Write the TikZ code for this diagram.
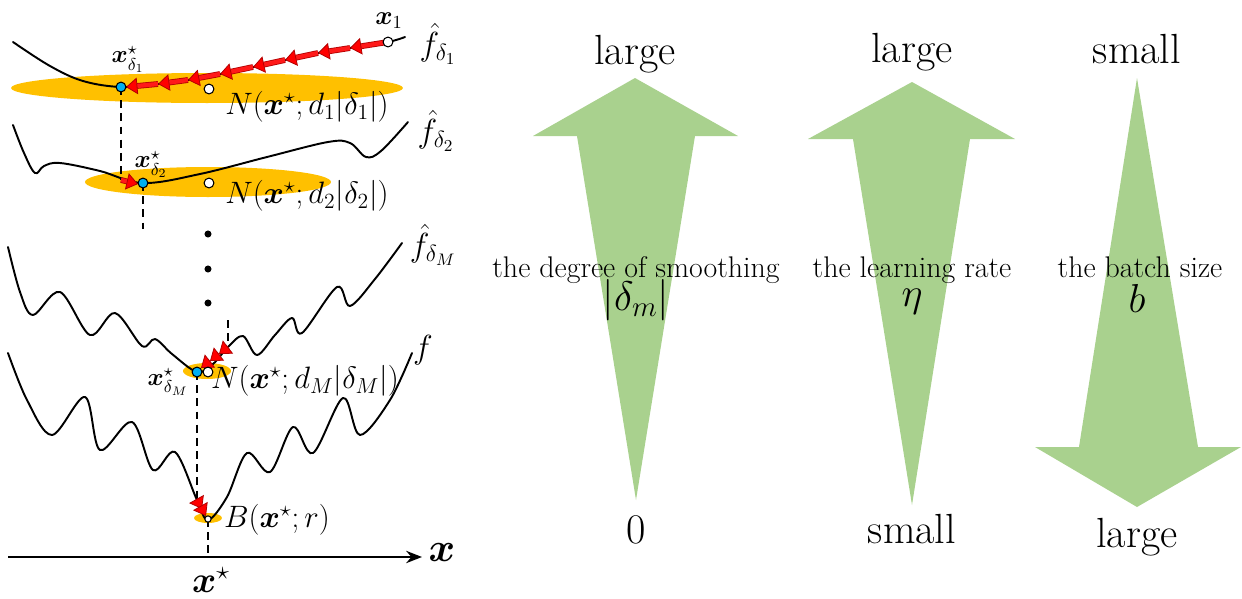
\RequirePackage{fix-cm}
\documentclass[tikz,border=0pt]{standalone}
\usepackage{amsmath,bm}
\usetikzlibrary{arrows.meta}
\definecolor{orng}{HTML}{FFC000}
\definecolor{cyanb}{HTML}{00B0F0}
\definecolor{grn}{HTML}{A9D18E}
\begin{document}
\begin{tikzpicture}[x=0.02cm, y=-0.02cm,
  curve/.style={line width=1.1pt, line join=round, line cap=round},
  dropline/.style={line width=1.1pt, dash pattern=on 4.5pt off 3pt},
  redarr/.style={draw=red!70!black, line width=0.45pt, double=red!90!white, double distance=2.4pt, -{Triangle[length=6.5pt,width=9.5pt,fill=red]}},
  bluedot/.style={circle, draw=black, fill=cyanb, line width=0.6pt, inner sep=0pt, minimum size=5.6pt},
  whitedot/.style={circle, draw=black, fill=white, line width=0.6pt, inner sep=0pt, minimum size=5.6pt},
  blackdot/.style={circle, fill=black, inner sep=0pt, minimum size=4pt},
  lbl/.style={inner sep=0pt, font=\fontsize{17.6}{21}\selectfont},
  flbl/.style={inner sep=0pt, font=\fontsize{19}{23}\selectfont},
  slbl/.style={inner sep=0pt, font=\fontsize{14}{17}\selectfont},
  endlbl/.style={inner sep=0pt, anchor=base, font=\fontsize{24}{28}\selectfont},
  midlbl/.style={inner sep=0pt, anchor=base, font=\fontsize{17}{20}\selectfont},
  mathlbl/.style={inner sep=0pt, font=\fontsize{21}{25}\selectfont}
]
\useasboundingbox (0,0) rectangle (1242,599);

% ---------------- left panel ----------------
% orange regions
\fill[orng] (207,88) ellipse [x radius=3.92cm, y radius=0.3cm];
\fill[orng] (208,182) ellipse [x radius=2.46cm, y radius=0.3cm];
\fill[orng] (207,371) ellipse [x radius=0.48cm, y radius=0.16cm];
\fill[orng] (208,518) ellipse [x radius=0.28cm, y radius=0.1cm];

% curves
\draw[curve] plot[smooth, tension=0.6] coordinates {(13,42) (50,66) (83,81) (121,87) (158,84) (188,80) (220,74) (253,67) (285,60) (318,53) (350,48) (388,42) (405,37)};
\draw[curve] plot[smooth, tension=0.6] coordinates {(13,125) (24,153) (35,173) (44,166) (60,163) (100,171) (143,183) (200,174) (267,157) (328,142) (350,143) (366,157) (381,151) (408,122)};
\draw[curve] plot[smooth, tension=0.55] coordinates {(8,247) (20,292) (33,315) (60,292) (90,335) (115,313) (142,346) (155,339) (172,354) (197,372) (213,364) (228,347) (243,336) (257,355) (275,335) (292,318) (302,333) (337,287) (350,306) (375,279) (402,243)};
\draw[curve] plot[smooth, tension=0.55] coordinates {(8,353) (27,400) (52,435) (85,397) (100,450) (132,422) (153,470) (175,452) (197,500) (208,520) (227,497) (247,453) (270,472) (293,427) (313,453) (343,398) (360,435) (390,400) (412,353)};

% points
\coordinate (p8) at (388,42);
\coordinate (p7) at (350,48);
\coordinate (p6) at (318,53);
\coordinate (p5) at (285,60);
\coordinate (p4) at (253,67);
\coordinate (p3) at (220,74);
\coordinate (p2) at (188,80);
\coordinate (p1) at (158,84);
\coordinate (p0) at (126,87);
\coordinate (d1end) at (121,180);
\coordinate (d2end) at (143,229);
\coordinate (dmtop) at (228,320);
\coordinate (dm) at (228,347);
\coordinate (dm1) at (219,354);
\coordinate (dm2) at (210,361);
\coordinate (dm3) at (201,368);
\coordinate (dmend) at (197,500);
\coordinate (b1) at (202,509);
\coordinate (b2) at (206,516);
\coordinate (axl) at (8,557);
\coordinate (axr) at (422,557);
\coordinate (axs) at (208,557);

% dashed drops
\draw[dropline] (121,87) -- (d1end);
\draw[dropline] (143,183) -- (d2end);
\draw[dropline] (dmtop) -- (dm);
\draw[dropline] (197,372) -- (dmend);
\draw[dropline] (208,519) -- (axs);

% red gradient steps
\draw[redarr] (p8) -- (p7);
\draw[redarr] (p7) -- (p6);
\draw[redarr] (p6) -- (p5);
\draw[redarr] (p5) -- (p4);
\draw[redarr] (p4) -- (p3);
\draw[redarr] (p3) -- (p2);
\draw[redarr] (p2) -- (p1);
\draw[redarr] (p1) -- (p0);
\draw[redarr] (d1end) -- (138,184);
\draw[redarr] (dm) -- (dm1);
\draw[redarr] (dm1) -- (dm2);
\draw[redarr] (dm2) -- (dm3);
\draw[redarr] (dmend) -- (b1);
\draw[redarr] (b1) -- (b2);

% dots
\node[whitedot] (x1) at (388,42) {};
\node[whitedot] (c1) at (209,89) {};
\node[whitedot] (c2) at (209,183) {};
\node[whitedot] (cm) at (208,372) {};
\node[whitedot, minimum size=3.6pt] (cb) at (208,519) {};
\node[bluedot] (s1) at (121,87) {};
\node[bluedot] (s2) at (143,183) {};
\node[bluedot] (sm) at (197,372) {};
\node[blackdot] (v1) at (208,234) {};
\node[blackdot] (v2) at (208,269) {};
\node[blackdot] (v3) at (208,303) {};

% axis
\draw[line width=1.2pt, -{Stealth[length=9pt,width=7pt]}] (axl) -- (axr);

% labels
\node[slbl, font=\fontsize{15}{18}\selectfont] (lx1) at (389,21) {$\bm{x}_1$};
\node[flbl] (lf1) at (438,44) {$\hat{f}_{\delta_1}$};
\node[slbl] (ls1) at (128,59) {$\bm{x}^{\star}_{\delta_1}$};
\node[lbl] (ln1) at (307,107) {$N(\bm{x}^{\star};d_1|\delta_1|)$};
\node[flbl] (lf2) at (436,131) {$\hat{f}_{\delta_2}$};
\node[slbl] (ls2) at (151,164) {$\bm{x}^{\star}_{\delta_2}$};
\node[lbl] (ln2) at (307,196) {$N(\bm{x}^{\star};d_2|\delta_2|)$};
\node[flbl] (lfm) at (433,245) {$\hat{f}_{\delta_M}$};
\node[flbl] (lf) at (423,350) {$f$};
\node[slbl] (lsm) at (168,382) {$\bm{x}^{\star}_{\delta_M}$};
\node[lbl] (lnm) at (305,381) {$N(\bm{x}^{\star};d_M|\delta_M|)$};
\node[lbl] (lb) at (277,520) {$B(\bm{x}^{\star};r)$};
\node[mathlbl, font=\fontsize{23}{27}\selectfont] (lax) at (442,553) {$\bm{x}$};
\node[mathlbl] (lxs) at (211,580) {$\bm{x}^{\star}$};

% ---------------- right panel ----------------
\fill[grn] (635,78) -- (738,136) -- (695,136) -- (636,500) -- (577,136) -- (533,136) -- cycle;
\fill[grn] (912,82) -- (1015,139) -- (970,139) -- (912,505) -- (853,139) -- (808,139) -- cycle;
\fill[grn] (1137,78) -- (1198,447) -- (1241,447) -- (1137,507) -- (1035,447) -- (1079,447) -- cycle;

\node[endlbl] (t1) at (635,64) {large};
\node[endlbl] (t2) at (912,62) {large};
\node[endlbl] (t3) at (1137,63) {small};
\node[endlbl] (b1t) at (636,543) {0};
\node[endlbl] (b2t) at (912,543) {small};
\node[endlbl] (b3t) at (1137,547) {large};

\node[midlbl] (m1) at (636,277) {the degree of smoothing};
\node[midlbl] (m2) at (912,277) {the learning rate};
\node[midlbl] (m3) at (1140,277) {the batch size};
\node[mathlbl, font=\fontsize{23.5}{27}\selectfont] (q1) at (636,300) {$|\delta_m|$};
\node[mathlbl, font=\fontsize{23}{27}\selectfont] (q2) at (912,302) {$\eta$};
\node[mathlbl, font=\fontsize{23}{27}\selectfont] (q3) at (1137,298) {$b$};
\end{tikzpicture}
\end{document}
